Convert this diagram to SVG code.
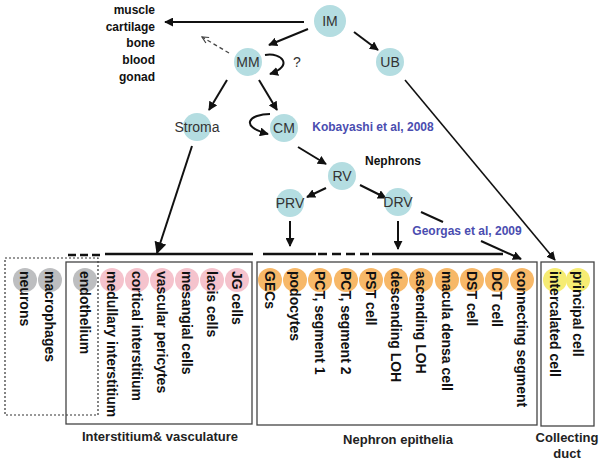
<svg xmlns="http://www.w3.org/2000/svg" width="601" height="464" viewBox="0 0 601 464">
<style>
.node{fill:#b4dde1}
.nl{font-family:"Liberation Sans",Arial,sans-serif;font-size:14px;fill:#333;text-anchor:middle;dominant-baseline:central}
.fate{font-family:"Liberation Sans",Arial,sans-serif;font-size:12px;font-weight:bold;fill:#111;text-anchor:end}
.ref{font-family:"Liberation Sans",Arial,sans-serif;font-size:12px;font-weight:bold;fill:#4a4db0;text-anchor:middle}
.lab{font-family:"Liberation Sans",Arial,sans-serif;font-size:12px;font-weight:bold;fill:#111;text-anchor:middle}
.cap{font-family:"Liberation Sans",Arial,sans-serif;font-size:13px;font-weight:bold;fill:#222;text-anchor:middle}
.cell{font-family:"Liberation Sans",Arial,sans-serif;font-size:14px;font-weight:bold;fill:#111}
.g{fill:#bdbec0}.p{fill:#f5c3cd}.o{fill:#f7b868}.y{fill:#f6ec73}
.ln{stroke:#111;stroke-width:2;fill:none}
.bar{stroke:#111;stroke-width:2.5;fill:none}
.box{stroke:#444;stroke-width:1.3;fill:none}
</style>
<defs>
<marker id="ah" viewBox="0 0 10 10" refX="9" refY="5" markerWidth="9" markerHeight="9" markerUnits="userSpaceOnUse" orient="auto"><path d="M0,0 L10,5 L0,10 z" fill="#111"/></marker>
<marker id="ahb" viewBox="0 0 10 10" refX="9" refY="5" markerWidth="12" markerHeight="12" markerUnits="userSpaceOnUse" orient="auto"><path d="M0,0 L10,5 L0,10 z" fill="#111"/></marker>
<marker id="aho" viewBox="0 0 10 10" refX="9" refY="5" markerWidth="8" markerHeight="8" markerUnits="userSpaceOnUse" orient="auto"><path d="M1,1 L9,5 L1,9" fill="none" stroke="#444" stroke-width="1.5"/></marker>
</defs>

<g id="fates">
<text class="fate" x="155" y="14">muscle</text>
<text class="fate" x="155" y="31">cartilage</text>
<text class="fate" x="155" y="47">bone</text>
<text class="fate" x="155" y="64">blood</text>
<text class="fate" x="155" y="81">gonad</text>
</g>

<g id="connectors">
<line class="ln" x1="304" y1="22" x2="165" y2="22" marker-end="url(#ah)"/>
<line class="ln" x1="308" y1="29" x2="269" y2="45" marker-end="url(#ah)"/>
<line x1="229" y1="53" x2="202" y2="37" stroke="#444" stroke-width="1.3" stroke-dasharray="4 3" marker-end="url(#aho)"/>
<path class="ln" d="M265,55 C282,52 294,66 270,74" marker-end="url(#ah)"/>
<line class="ln" x1="354" y1="32" x2="378" y2="50" marker-end="url(#ah)"/>
<line class="ln" x1="227" y1="80" x2="209" y2="110" marker-end="url(#ah)"/>
<line class="ln" x1="259" y1="80" x2="277" y2="110" marker-end="url(#ah)"/>
<path class="ln" d="M270,114 C250,114 238,126 268,134" marker-end="url(#ah)"/>
<line class="ln" x1="192" y1="146" x2="157" y2="253" marker-end="url(#ahb)"/>
<line class="ln" x1="298" y1="147" x2="326" y2="164" marker-end="url(#ah)"/>
<line class="ln" x1="326" y1="188" x2="307" y2="197" marker-end="url(#ah)"/>
<line class="ln" x1="360" y1="185" x2="386" y2="198" marker-end="url(#ah)"/>
<line class="ln" x1="290" y1="221" x2="290" y2="246" marker-end="url(#ah)"/>
<line class="ln" x1="398" y1="221" x2="398" y2="249" marker-end="url(#ah)"/>
<line class="ln" x1="421" y1="212" x2="443" y2="222"/>
<line class="ln" x1="481" y1="241" x2="521" y2="259" marker-end="url(#ah)"/>
<line stroke="#111" stroke-width="1.6" x1="405" y1="80" x2="555" y2="260" marker-end="url(#ah)"/>
<line class="bar" x1="68" y1="255" x2="100" y2="255" stroke-dasharray="8 4"/>
<line class="bar" x1="105" y1="254" x2="253" y2="254"/>
<line class="bar" x1="263" y1="254" x2="316" y2="254"/>
<line class="bar" x1="318" y1="254" x2="372" y2="254" stroke-dasharray="9 5"/>
<line class="bar" x1="372" y1="254" x2="503" y2="254"/>
</g>

<g id="IM"><circle class="node" cx="330" cy="21" r="16"/><text class="nl" x="330" y="21">IM</text></g>
<g id="MM"><circle class="node" cx="248" cy="62" r="14"/><text class="nl" x="248" y="62">MM</text></g>
<text x="297" y="67" font-family="Liberation Sans,Arial,sans-serif" font-size="14" fill="#333" text-anchor="middle">?</text>
<g id="UB"><circle class="node" cx="390" cy="62" r="14"/><text class="nl" x="390" y="62">UB</text></g>
<g id="Stroma"><circle class="node" cx="197" cy="127" r="14"/><text class="nl" x="197" y="127">Stroma</text></g>
<g id="CM"><circle class="node" cx="284" cy="128" r="14"/><text class="nl" x="284" y="128">CM</text></g>
<g id="RV"><circle class="node" cx="342" cy="176" r="14"/><text class="nl" x="342" y="176">RV</text></g>
<g id="PRV"><circle class="node" cx="290" cy="203" r="14"/><text class="nl" x="290" y="203">PRV</text></g>
<g id="DRV"><circle class="node" cx="398" cy="202" r="14"/><text class="nl" x="398" y="202">DRV</text></g>

<g id="labels">
<text class="ref" x="373" y="131">Kobayashi et al, 2008</text>
<text class="lab" x="393" y="165">Nephrons</text>
<text class="ref" x="467" y="235">Georgas et al, 2009</text>
</g>

<g id="boxes">
<rect x="5" y="258" width="93" height="157" fill="none" stroke="#333" stroke-width="1.2" stroke-dasharray="2 2"/>
<rect class="box" x="66" y="262" width="186" height="162"/>
<rect class="box" x="257" y="262" width="280" height="163"/>
<rect class="box" x="541" y="262" width="53" height="164"/>
</g>

<g id="cells">
<g id="neurons"><circle class="g" cx="25" cy="280" r="12"/><text class="cell" transform="translate(25,271) rotate(90)" dy=".35em">neurons</text></g>
<g id="macrophages"><circle class="g" cx="50" cy="280" r="12"/><text class="cell" transform="translate(50,271) rotate(90)" dy=".35em">macrophages</text></g>
<g id="endothelium"><circle class="g" cx="85" cy="280" r="12"/><text class="cell" transform="translate(85,271) rotate(90)" dy=".35em">endothelium</text></g>
<g id="medullary"><circle class="p" cx="112" cy="280" r="12"/><text class="cell" transform="translate(112,271) rotate(90)" dy=".35em">medullary interstitium</text></g>
<g id="cortical"><circle class="p" cx="137" cy="280" r="12"/><text class="cell" transform="translate(137,271) rotate(90)" dy=".35em">cortical interstitium</text></g>
<g id="pericytes"><circle class="p" cx="162" cy="280" r="12"/><text class="cell" transform="translate(162,271) rotate(90)" dy=".35em">vascular pericytes</text></g>
<g id="mesangial"><circle class="p" cx="187" cy="280" r="12"/><text class="cell" transform="translate(187,271) rotate(90)" dy=".35em">mesangial cells</text></g>
<g id="lacis"><circle class="p" cx="212" cy="280" r="12"/><text class="cell" transform="translate(212,271) rotate(90)" dy=".35em">lacis cells</text></g>
<g id="JG"><circle class="p" cx="237" cy="280" r="12"/><text class="cell" transform="translate(237,271) rotate(90)" dy=".35em">JG cells</text></g>
<g id="GECs"><circle class="o" cx="270" cy="280" r="12"/><text class="cell" transform="translate(270,271) rotate(90)" dy=".35em">GECs</text></g>
<g id="podocytes"><circle class="o" cx="295" cy="280" r="12"/><text class="cell" transform="translate(295,271) rotate(90)" dy=".35em">podocytes</text></g>
<g id="PCT1"><circle class="o" cx="320" cy="280" r="12"/><text class="cell" transform="translate(320,271) rotate(90)" dy=".35em">PCT, segment 1</text></g>
<g id="PCT2"><circle class="o" cx="346" cy="280" r="12"/><text class="cell" transform="translate(346,271) rotate(90)" dy=".35em">PCT, segment 2</text></g>
<g id="PST"><circle class="o" cx="371" cy="280" r="12"/><text class="cell" transform="translate(371,271) rotate(90)" dy=".35em">PST cell</text></g>
<g id="dLOH"><circle class="o" cx="396" cy="280" r="12"/><text class="cell" transform="translate(396,271) rotate(90)" dy=".35em">descending LOH</text></g>
<g id="aLOH"><circle class="o" cx="421" cy="280" r="12"/><text class="cell" transform="translate(421,271) rotate(90)" dy=".35em">ascending LOH</text></g>
<g id="macula"><circle class="o" cx="447" cy="280" r="12"/><text class="cell" transform="translate(447,271) rotate(90)" dy=".35em">macula densa cell</text></g>
<g id="DST"><circle class="o" cx="472" cy="280" r="12"/><text class="cell" transform="translate(472,271) rotate(90)" dy=".35em">DST cell</text></g>
<g id="DCT"><circle class="o" cx="497" cy="280" r="12"/><text class="cell" transform="translate(497,271) rotate(90)" dy=".35em">DCT cell</text></g>
<g id="connecting"><circle class="o" cx="522" cy="280" r="12"/><text class="cell" transform="translate(522,271) rotate(90)" dy=".35em">connecting segment</text></g>
<g id="intercalated"><circle class="y" cx="555" cy="280" r="12"/><text class="cell" transform="translate(555,271) rotate(90)" dy=".35em">intercalated cell</text></g>
<g id="principal"><circle class="y" cx="578" cy="280" r="12"/><text class="cell" transform="translate(578,271) rotate(90)" dy=".35em">principal cell</text></g>
</g>

<g id="captions">
<text class="cap" x="160" y="441">Interstitium&amp; vasculature</text>
<text class="cap" x="398" y="444">Nephron epithelia</text>
<text class="cap" x="567" y="442">Collecting</text>
<text class="cap" x="567" y="458">duct</text>
</g>
</svg>
